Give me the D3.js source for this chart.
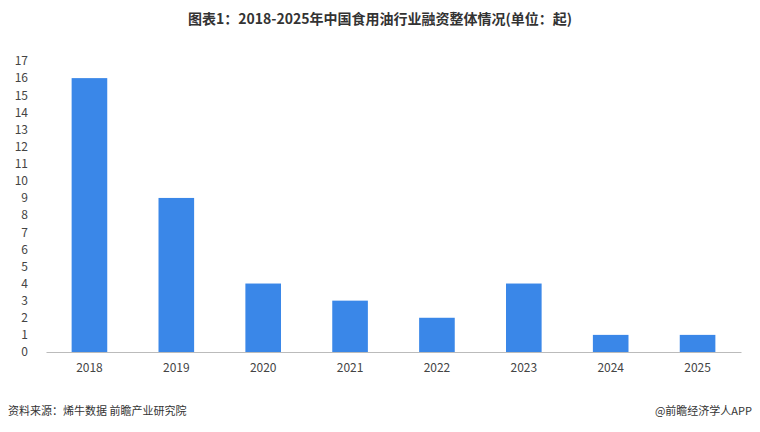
<!DOCTYPE html>
<html><head><meta charset="utf-8">
<script src="https://cdn.jsdelivr.net/npm/d3@7/dist/d3.min.js"></script>
<style>body{margin:0;background:#fff}text{font-family:"Noto Sans CJK SC","Noto Sans",sans-serif}</style>
</head><body><svg id="c" width="760" height="432"></svg>
<script>
const categories=["2018","2019","2020","2021","2022","2023","2024","2025"];
const values=[16,9,4,3,2,4,1,1];
const yTicks=d3.range(0,18);
const svg=d3.select("#c");
const x=d3.scaleBand().domain(categories).range([46,741]).paddingInner(0.59).paddingOuter(0.295);
const y=d3.scaleLinear().domain([0,17]).range([352,61]);
svg.append("text").attr("x",380).attr("y",24).attr("text-anchor","middle").attr("font-size",14).attr("font-weight","bold").attr("fill","#333").text("图表1：2018-2025年中国食用油行业融资整体情况(单位：起)");
svg.selectAll("rect.b").data(values).join("rect").attr("class","b")
 .attr("x",(d,i)=>x(categories[i])).attr("width",x.bandwidth())
 .attr("y",d=>y(d)).attr("height",d=>y(0)-y(d)).attr("fill","#3A87E8");
const ya=svg.append("g").attr("transform","translate(30,0)").call(d3.axisLeft(y).tickValues(yTicks).tickSize(0));
ya.select(".domain").remove();
ya.selectAll("text").attr("font-size",12).attr("fill","#444").attr("x",-2);
const xa=svg.append("g").attr("transform","translate(0,352)").call(d3.axisBottom(x).tickSize(0));
xa.select(".domain").attr("stroke","#bbb");
xa.selectAll("text").attr("font-size",12).attr("fill","#444").attr("dy","1.4em");
svg.append("text").attr("x",8).attr("y",415).attr("font-size",11).attr("fill","#333").text("资料来源：烯牛数据 前瞻产业研究院");
svg.append("text").attr("x",752).attr("y",415).attr("text-anchor","end").attr("font-size",11).attr("fill","#333").text("@前瞻经济学人APP");
</script></body></html>
